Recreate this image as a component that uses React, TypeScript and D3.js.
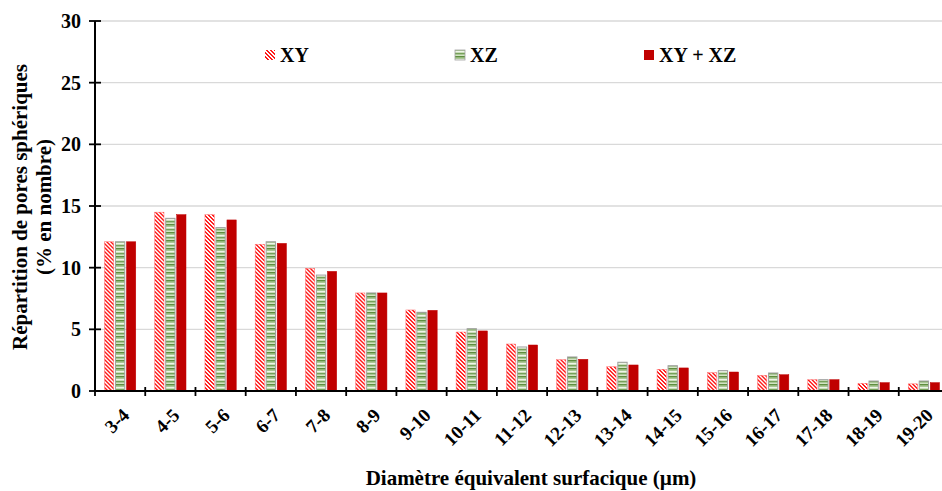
import React from "react";
import * as d3 from "d3";

const categories = ["3-4","4-5","5-6","6-7","7-8","8-9","9-10","10-11","11-12","12-13","13-14","14-15","15-16","16-17","17-18","18-19","19-20"];
const seriesNames = ["XY","XZ","XY + XZ"];
const xyValues = [12.1,14.5,14.3,11.9,9.95,7.95,6.57,4.78,3.81,2.54,1.97,1.76,1.49,1.27,0.92,0.62,0.58];
const xzValues = [12.1,14.0,13.25,12.1,9.4,7.95,6.38,5.05,3.57,2.76,2.33,2.05,1.65,1.46,0.92,0.81,0.81];
const xyxzValues = [12.1,14.3,13.87,11.97,9.7,7.95,6.54,4.87,3.73,2.57,2.11,1.87,1.54,1.32,0.92,0.68,0.68];
const yTicks = [0,5,10,15,20,25,30];

const W = 942, H = 491;
const M = { left: 95, top: 21, right: 949, bottom: 391 };
const FONT = "'Liberation Serif', 'Times New Roman', serif";

const stripeCells: [number, number][] = [];
for (let yy = 0; yy < 4; yy++) {
  stripeCells.push([yy % 4, yy]);
  stripeCells.push([(yy + 1) % 4, yy]);
}

export default function App() {
  const x0 = d3.scaleBand<string>().domain(categories).range([M.left, M.right]).paddingInner(0).paddingOuter(0);
  const groupW = 31.3;
  const x1 = d3.scaleBand<string>().domain(seriesNames).range([0, groupW]).paddingInner(0.155).paddingOuter(0);
  const y = d3.scaleLinear().domain([0, 30]).range([M.bottom, M.top]);
  const bw = x1.bandwidth();
  const values = [xyValues, xzValues, xyxzValues];
  const fills = ["url(#patXY)", "url(#patXZ)", "#c00000"];
  const strokes = ["#ff7070", "#a0a0a0", "#c00000"];
  const strokeW = [0.5, 1, 0.5];

  const legend = [
    { name: "XY", x: 265 },
    { name: "XZ", x: 455 },
    { name: "XY + XZ", x: 644 },
  ];

  return (
    <svg width={W} height={H} style={{ position: "absolute", left: 0, top: 0, background: "#fff" }} fontFamily={FONT}>
      <defs>
        <pattern id="patXY" patternUnits="userSpaceOnUse" width={4} height={4}>
          <rect width={4} height={4} fill="#ffffff" />
          {stripeCells.map(([cx, cy], i) => (
            <rect key={i} x={cx} y={cy} width={1} height={1} fill="#ff1a1a" shapeRendering="crispEdges" />
          ))}
        </pattern>
        <pattern id="patXZ" patternUnits="userSpaceOnUse" width={4} height={8}>
          <rect width={4} height={8} fill="#aac895" />
          <rect y={0} width={4} height={1} fill="#5e8e3e" />
          <rect y={1} width={4} height={1} fill="#93b77a" />
          <rect y={3} width={4} height={1} fill="#eef5e8" />
          <rect y={4} width={4} height={1} fill="#c9ddb9" />
          <rect y={5} width={4} height={1} fill="#76a05a" />
          <rect y={7} width={4} height={1} fill="#d2e3c4" />
        </pattern>
      </defs>

      {/* gridlines */}
      {yTicks.filter(t => t > 0).map(t => (
        <line key={t} x1={M.left} x2={M.right} y1={y(t)} y2={y(t)} stroke="#d9d9d9" strokeWidth={1.3} />
      ))}

      {/* bars */}
      {categories.map((c, i) => (
        <g key={c} transform={`translate(${x0(c)! + (x0.bandwidth() - groupW) / 2},0)`}>
          {seriesNames.map((s, k) => (
            <rect key={s} x={x1(s)!} y={y(values[k][i])} width={bw} height={y(0) - y(values[k][i])}
              fill={fills[k]} stroke={strokes[k]} strokeWidth={strokeW[k]} />
          ))}
        </g>
      ))}

      {/* y axis */}
      <line x1={M.left} x2={M.left} y1={M.top} y2={M.bottom} stroke="#000" strokeWidth={2} />
      {yTicks.map(t => (
        <g key={t}>
          <line x1={89} x2={101} y1={y(t)} y2={y(t)} stroke="#000" strokeWidth={1.8} />
          <text x={81} y={y(t)} dy="0.35em" textAnchor="end" fontSize={20} fontWeight="bold">{t}</text>
        </g>
      ))}

      {/* x axis */}
      <line x1={M.left} x2={M.right} y1={M.bottom} y2={M.bottom} stroke="#000" strokeWidth={2} />
      {categories.map((c) => (
        <line key={c} x1={x0(c)!} x2={x0(c)!} y1={M.bottom - 4} y2={M.bottom + 5} stroke="#000" strokeWidth={1.8} />
      ))}
      {categories.map(c => {
        const cx = x0(c)! + x0.bandwidth() / 2;
        return (
          <text key={c} transform={`translate(${cx + 1},${407}) rotate(-45)`} textAnchor="end" dy="0.7em"
            fontSize={19} fontWeight="bold">{c}</text>
        );
      })}

      {/* axis titles */}
      <text x={531} y={485} textAnchor="middle" fontSize={21} fontWeight="bold">Diamètre équivalent surfacique (µm)</text>
      <text transform={`translate(27,207) rotate(-90)`} textAnchor="middle" fontSize={21} fontWeight="bold">Répartition de pores sphériques</text>
      <text transform={`translate(51,207) rotate(-90)`} textAnchor="middle" fontSize={21} fontWeight="bold">(% en nombre)</text>

      {/* legend */}
      {legend.map((l, k) => (
        <g key={l.name}>
          <rect x={l.x} y={50} width={10} height={10} fill={fills[k]} stroke={k === 1 ? "#a0a0a0" : "none"} strokeWidth={0.8} />
          <text x={l.x + 15} y={62} fontSize={20} fontWeight="bold">{l.name}</text>
        </g>
      ))}
    </svg>
  );
}
